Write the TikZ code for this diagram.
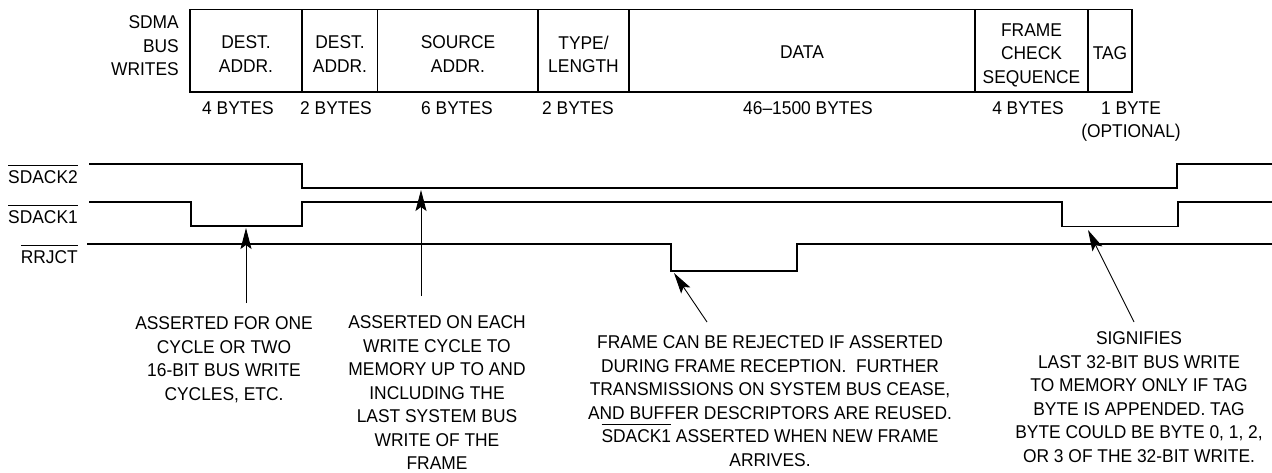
\documentclass[tikz,border=0pt]{standalone}
\usepackage{fontspec}
\setmainfont{Liberation Sans}[FakeStretch=0.94]
\usetikzlibrary{arrows.meta}
\newcommand\ovl[1]{\setbox0\hbox{#1}\rlap{\rule[\dimexpr\ht0+4.5pt\relax]{\wd0}{0.9pt}}\box0\relax}
\tikzset{
  txt/.style={font=\fontsize{18.5}{23.5}\selectfont, align=center, inner sep=0pt, anchor=north},
  frame/.style={line width=1.1pt},
  sig/.style={line width=1.2pt, line join=miter},
  ann/.style={line width=0.9pt, -{Stealth[length=21pt,width=11pt,inset=4pt]}},
}
\begin{document}
\begin{tikzpicture}[x=1pt,y=-1pt]
\useasboundingbox (0,0) rectangle (1272,472);
% frame of SDMA bus writes
\draw[frame] (190,9.5) rectangle (1132,92);
\foreach \xx in {302,377.5,538,629,975,1088}
  \draw[frame] (\xx,9.5) -- (\xx,92);
\node[txt, anchor=north east, align=right] (sdma) at (179,15.4) {SDMA\\BUS\\WRITES};
\node[txt] (c1) at (246,35.4) {DEST.\\ADDR.};
\node[txt] (c2) at (340,35.4) {DEST.\\ADDR.};
\node[txt] (c3) at (458,35.4) {SOURCE\\ADDR.};
\node[txt] (c4) at (583.5,35.4) {TYPE/\\LENGTH};
\node[txt] (c5) at (802,45.4) {DATA};
\node[txt] (c6) at (1031.5,23.4) {FRAME\\CHECK\\SEQUENCE};
\node[txt] (c7) at (1110,46.4) {TAG};
% byte counts
\node[txt] (b1) at (238,101.4) {4 BYTES};
\node[txt] (b2) at (336,101.4) {2 BYTES};
\node[txt] (b3) at (457,101.4) {6 BYTES};
\node[txt] (b4) at (578,101.4) {2 BYTES};
\node[txt] (b5) at (808,101.4) {46--1500 BYTES};
\node[txt] (b6) at (1028,101.4) {4 BYTES};
\node[txt] (b7) at (1131,101.4) {1 BYTE\\(OPTIONAL)};
% signal labels
\node[txt, anchor=base east] (l2) at (78,183.6) {\ovl{SDACK2}};
\node[txt, anchor=base east] (l1) at (78,223.6) {\ovl{SDACK1}};
\node[txt, anchor=base east] (lr) at (78,263.6) {\ovl{RRJCT}};
% waveforms
\draw[sig] (89,164) -- (302,164) -- (302,188) -- (1177,188) -- (1177,164) -- (1272,164);
\draw[sig] (89,202) -- (191,202) -- (191,226) -- (302,226) -- (302,202) -- (1062,202)
  -- (1062,226.5) -- (1178,226.5) -- (1178,202) -- (1272,202);
\draw[sig] (87,244) -- (671,244) -- (671,271) -- (797,271) -- (797,244) -- (1272,244);
% annotations
\node[txt] (t1) at (224,316.4) {ASSERTED FOR ONE\\CYCLE OR TWO\\16-BIT BUS WRITE\\CYCLES, ETC.};
\node[txt] (t2) at (437,315.4) {ASSERTED ON EACH\\WRITE CYCLE TO\\MEMORY UP TO AND\\INCLUDING THE\\LAST SYSTEM BUS\\WRITE OF THE\\FRAME};
\node[txt] (t3) at (770,335.4) {FRAME CAN BE REJECTED IF ASSERTED\\DURING FRAME RECEPTION.\ \ FURTHER\\TRANSMISSIONS ON SYSTEM BUS CEASE,\\AND BUFFER DESCRIPTORS ARE REUSED.\\\ovl{SDACK1} ASSERTED WHEN NEW FRAME\\ARRIVES.};
\node[txt] (t4) at (1139,331.4) {SIGNIFIES\\LAST 32-BIT BUS WRITE\\TO MEMORY ONLY IF TAG\\BYTE IS APPENDED. TAG\\BYTE COULD BE BYTE 0, 1, 2,\\OR 3 OF THE 32-BIT WRITE.};
% arrow ends
\coordinate (a1s) at (246,303); \coordinate (a1e) at (246,228);
\coordinate (a2s) at (421,296); \coordinate (a2e) at (421,190);
\coordinate (a3s) at (707,322); \coordinate (a3e) at (674,273);
\coordinate (a4s) at (1134,322); \coordinate (a4e) at (1088,230);
\draw[ann] (a1s) -- (a1e);
\draw[ann] (a2s) -- (a2e);
\draw[ann] (a3s) -- (a3e);
\draw[ann] (a4s) -- (a4e);
\end{tikzpicture}
\end{document}
